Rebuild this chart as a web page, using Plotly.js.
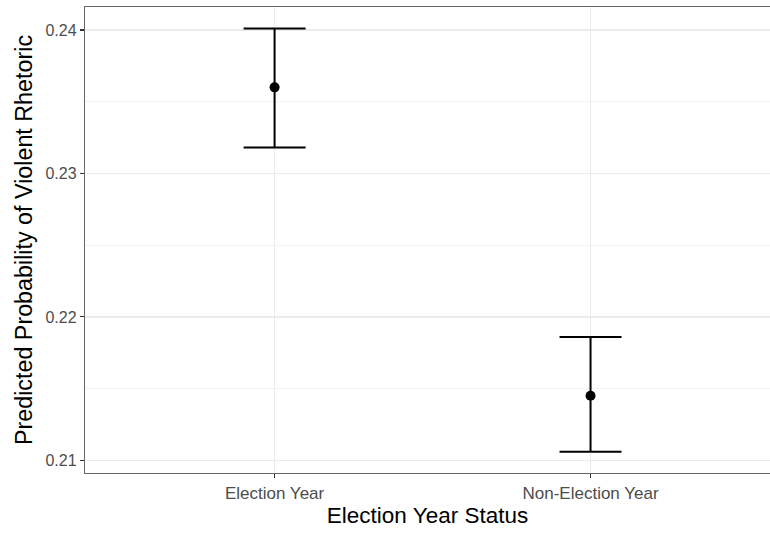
<!DOCTYPE html>
<html>
<head>
<meta charset="utf-8">
<script src="https://cdn.plot.ly/plotly-3.0.1.min.js"></script>
<style>html,body{margin:0;padding:0;background:#fff;}#chart{width:770px;height:533px;}</style>
</head>
<body>
<div id="chart"></div>
<script>
var categories = ["Election Year", "Non-Election Year"];
var catPositions = [1, 2];
var estimates = [0.2360, 0.2145];
var upperCI = [0.2401, 0.2186];
var lowerCI = [0.2318, 0.2106];
var yTickVals = [0.21, 0.22, 0.23, 0.24];
var yTickText = ["0.21", "0.22", "0.23", "0.24"];

var trace = {
  x: catPositions,
  y: estimates,
  type: "scatter",
  mode: "markers",
  marker: {color: "#000000", size: 10},
  error_y: {
    type: "data",
    symmetric: false,
    array: upperCI.map(function(u, i){ return u - estimates[i]; }),
    arrayminus: lowerCI.map(function(l, i){ return estimates[i] - l; }),
    color: "#000000",
    thickness: 2,
    width: 31
  },
  hoverinfo: "none"
};

var layout = {
  width: 770, height: 533,
  margin: {l: 85, r: 0, t: 7, b: 60},
  paper_bgcolor: "#ffffff",
  plot_bgcolor: "#ffffff",
  showlegend: false,
  font: {family: "Liberation Sans, Arial, sans-serif"},
  xaxis: {
    range: [0.4, 2.568],
    tickvals: catPositions,
    ticktext: categories,
    showgrid: true, gridcolor: "#ebebeb", gridwidth: 1.5,
    zeroline: false, automargin: false,
    showline: true, linecolor: "#666666", linewidth: 1.2, mirror: true,
    ticks: "outside", ticklen: 4, tickcolor: "#333333", tickwidth: 1.2,
    tickfont: {size: 17, color: "#4d4d4d"},
    title: {text: "Election Year Status", font: {size: 22.5, color: "#000000"}, standoff: 3}
  },
  yaxis: {
    range: [0.20912, 0.2416],
    tickvals: yTickVals,
    ticktext: yTickText,
    showgrid: true, gridcolor: "#ebebeb", gridwidth: 1.5,
    minor: {showgrid: true, dtick: 0.005, tick0: 0.21, gridcolor: "#f3f3f3", gridwidth: 1},
    zeroline: false, automargin: false,
    showline: true, linecolor: "#666666", linewidth: 1.2, mirror: false,
    ticks: "outside", ticklen: 4, tickcolor: "#333333", tickwidth: 1.2,
    tickfont: {size: 16, color: "#4d4d4d"},
    title: {text: "Predicted Probability of Violent Rhetoric", font: {size: 23.3, color: "#000000"}, standoff: 6}
  }
};

Plotly.newPlot("chart", [trace], layout, {displayModeBar: false, staticPlot: true});
</script>
</body>
</html>
